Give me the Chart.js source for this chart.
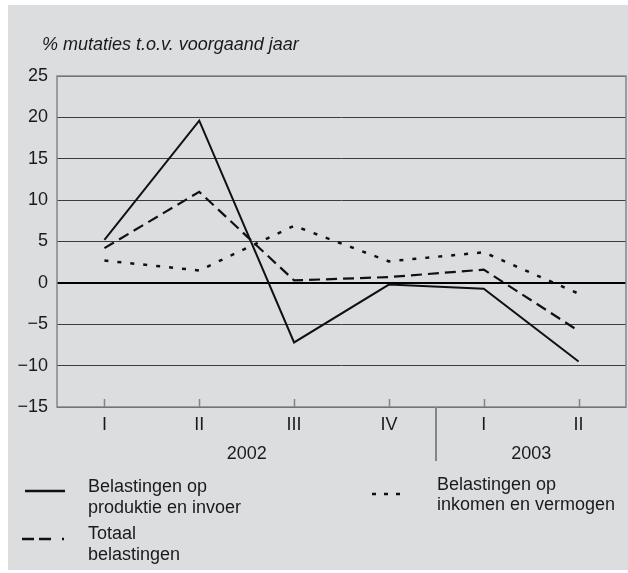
<!DOCTYPE html>
<html>
<head>
<meta charset="utf-8">
<script src="https://cdn.jsdelivr.net/npm/chart.js@4.4.1/dist/chart.umd.min.js"></script>
<style>
    html, body { margin: 0; padding: 0; background: #fff; }
    #wrap { position: relative; width: 628px; height: 573px; font-family: "Liberation Sans", Arial, sans-serif; color: #1a1a1a; }
    #panel { position: absolute; left: 8px; top: 5px; width: 620px; height: 565px; background: #dcdddf; }
    #chart { position: absolute; left: 0; top: 0; }
    .txt { position: absolute; font-size: 18px; line-height: 21px; white-space: nowrap; }
    #title { position: absolute; left: 42px; top: 34px; font-size: 18px; line-height: 21px; font-style: italic; }
    svg { position: absolute; overflow: visible; }
</style>
</head>
<body>
<div id="wrap">
    <div id="panel"></div>
    <canvas id="chart" width="628" height="573"></canvas>
    <div id="title">% mutaties t.o.v. voorgaand jaar</div>

    <svg style="left:25px; top:486px;" width="40" height="10">
        <line x1="0" y1="5" x2="40" y2="5" stroke="#111" stroke-width="2.5"/>
    </svg>
    <div class="txt" style="left:88px; top:476px;">Belastingen op<br>produktie en invoer</div>

    <svg style="left:22px; top:534px;" width="42" height="10">
        <line x1="0" y1="5" x2="42" y2="5" stroke="#111" stroke-width="2.5" stroke-dasharray="12 5 12 11 2 0"/>
    </svg>
    <div class="txt" style="left:88px; top:523px;">Totaal<br>belastingen</div>

    <svg style="left:372px; top:489px;" width="32" height="10">
        <line x1="0" y1="5" x2="32" y2="5" stroke="#111" stroke-width="2.5" stroke-dasharray="4 8"/>
    </svg>
    <div class="txt" style="left:437px; top:474px; line-height:20px;">Belastingen op<br>inkomen en vermogen</div>
</div>

<script>
const quarters = ["I", "II", "III", "IV", "I", "II"];
const years = ["2002", "2003"];
const yearSpans = [[0, 3], [4, 5]];

const produktieInvoer = [5.2, 19.6, -7.2, -0.2, -0.7, -9.5];
const totaalBelastingen = [4.2, 11.0, 0.3, 0.7, 1.6, -5.8];
const inkomenVermogen = [2.7, 1.5, 6.9, 2.6, 3.7, -1.3];

const yTicks = { min: -15, max: 25, step: 5 };

// frame, inner tick marks, year labels and the 2002/2003 divider
const axisExtras = {
    id: "axisExtras",
    afterDraw(chart) {
        const ctx = chart.ctx;
        const area = chart.chartArea;
        const x = chart.scales.x;

        ctx.save();
        ctx.strokeStyle = "#858585";
        ctx.lineWidth = 1.5;
        ctx.strokeRect(area.left, area.top, area.right - area.left, area.bottom - area.top);

        ctx.beginPath();
        quarters.forEach((q, i) => {
            const px = Math.round(x.getPixelForValue(i)) + 0.5;
            ctx.moveTo(px, area.bottom);
            ctx.lineTo(px, area.bottom - 8);
        });
        ctx.stroke();

        ctx.lineWidth = 2;
        ctx.beginPath();
        const sep = Math.round(x.getPixelForValue(3.5));
        ctx.moveTo(sep, area.bottom);
        ctx.lineTo(sep, area.bottom + 54);
        ctx.stroke();

        ctx.fillStyle = "#1a1a1a";
        ctx.font = "18px 'Liberation Sans', Arial, sans-serif";
        ctx.textAlign = "center";
        ctx.textBaseline = "middle";
        years.forEach((yr, i) => {
            const a = x.getPixelForValue(yearSpans[i][0] - 0.5);
            const b = x.getPixelForValue(yearSpans[i][1] + 0.5);
            ctx.fillText(yr, (a + b) / 2, area.bottom + 47);
        });
        ctx.restore();
    }
};

new Chart(document.getElementById("chart"), {
    type: "line",
    data: {
        labels: quarters,
        datasets: [{
            label: "Belastingen op produktie en invoer",
            data: produktieInvoer,
            borderColor: "#111",
            borderWidth: 2,
            pointRadius: 0,
            tension: 0
        }, {
            label: "Totaal belastingen",
            data: totaalBelastingen,
            borderColor: "#111",
            borderWidth: 2.2,
            borderDash: [11, 6],
            pointRadius: 0,
            tension: 0
        }, {
            label: "Belastingen op inkomen en vermogen",
            data: inkomenVermogen,
            borderColor: "#111",
            borderWidth: 2.5,
            borderDash: [4, 9],
            pointRadius: 0,
            tension: 0
        }]
    },
    options: {
        responsive: false,
        animation: false,
        layout: { padding: { left: 0, top: 76, right: 2, bottom: 136 } },
        plugins: {
            legend: { display: false },
            tooltip: { enabled: false }
        },
        scales: {
            x: {
                offset: true,
                afterFit: s => { s.height = 30; },
                grid: { display: false, drawTicks: false },
                border: { display: false },
                ticks: {
                    padding: 7,
                    color: "#1a1a1a",
                    font: { family: "'Liberation Sans', Arial, sans-serif", size: 18 }
                }
            },
            y: {
                min: yTicks.min,
                max: yTicks.max,
                afterFit: s => { s.width = 57; },
                border: { display: false },
                grid: {
                    drawTicks: false,
                    color: c => c.tick && c.tick.value === 0 ? "#000" : "#3c3c3c",
                    lineWidth: c => c.tick && c.tick.value === 0 ? 2 : 1
                },
                ticks: {
                    stepSize: yTicks.step,
                    padding: 9,
                    color: "#1a1a1a",
                    font: { family: "'Liberation Sans', Arial, sans-serif", size: 18 },
                    callback: v => String(v).replace("-", "\u2212")
                }
            }
        }
    },
    plugins: [axisExtras]
});
</script>
</body>
</html>
